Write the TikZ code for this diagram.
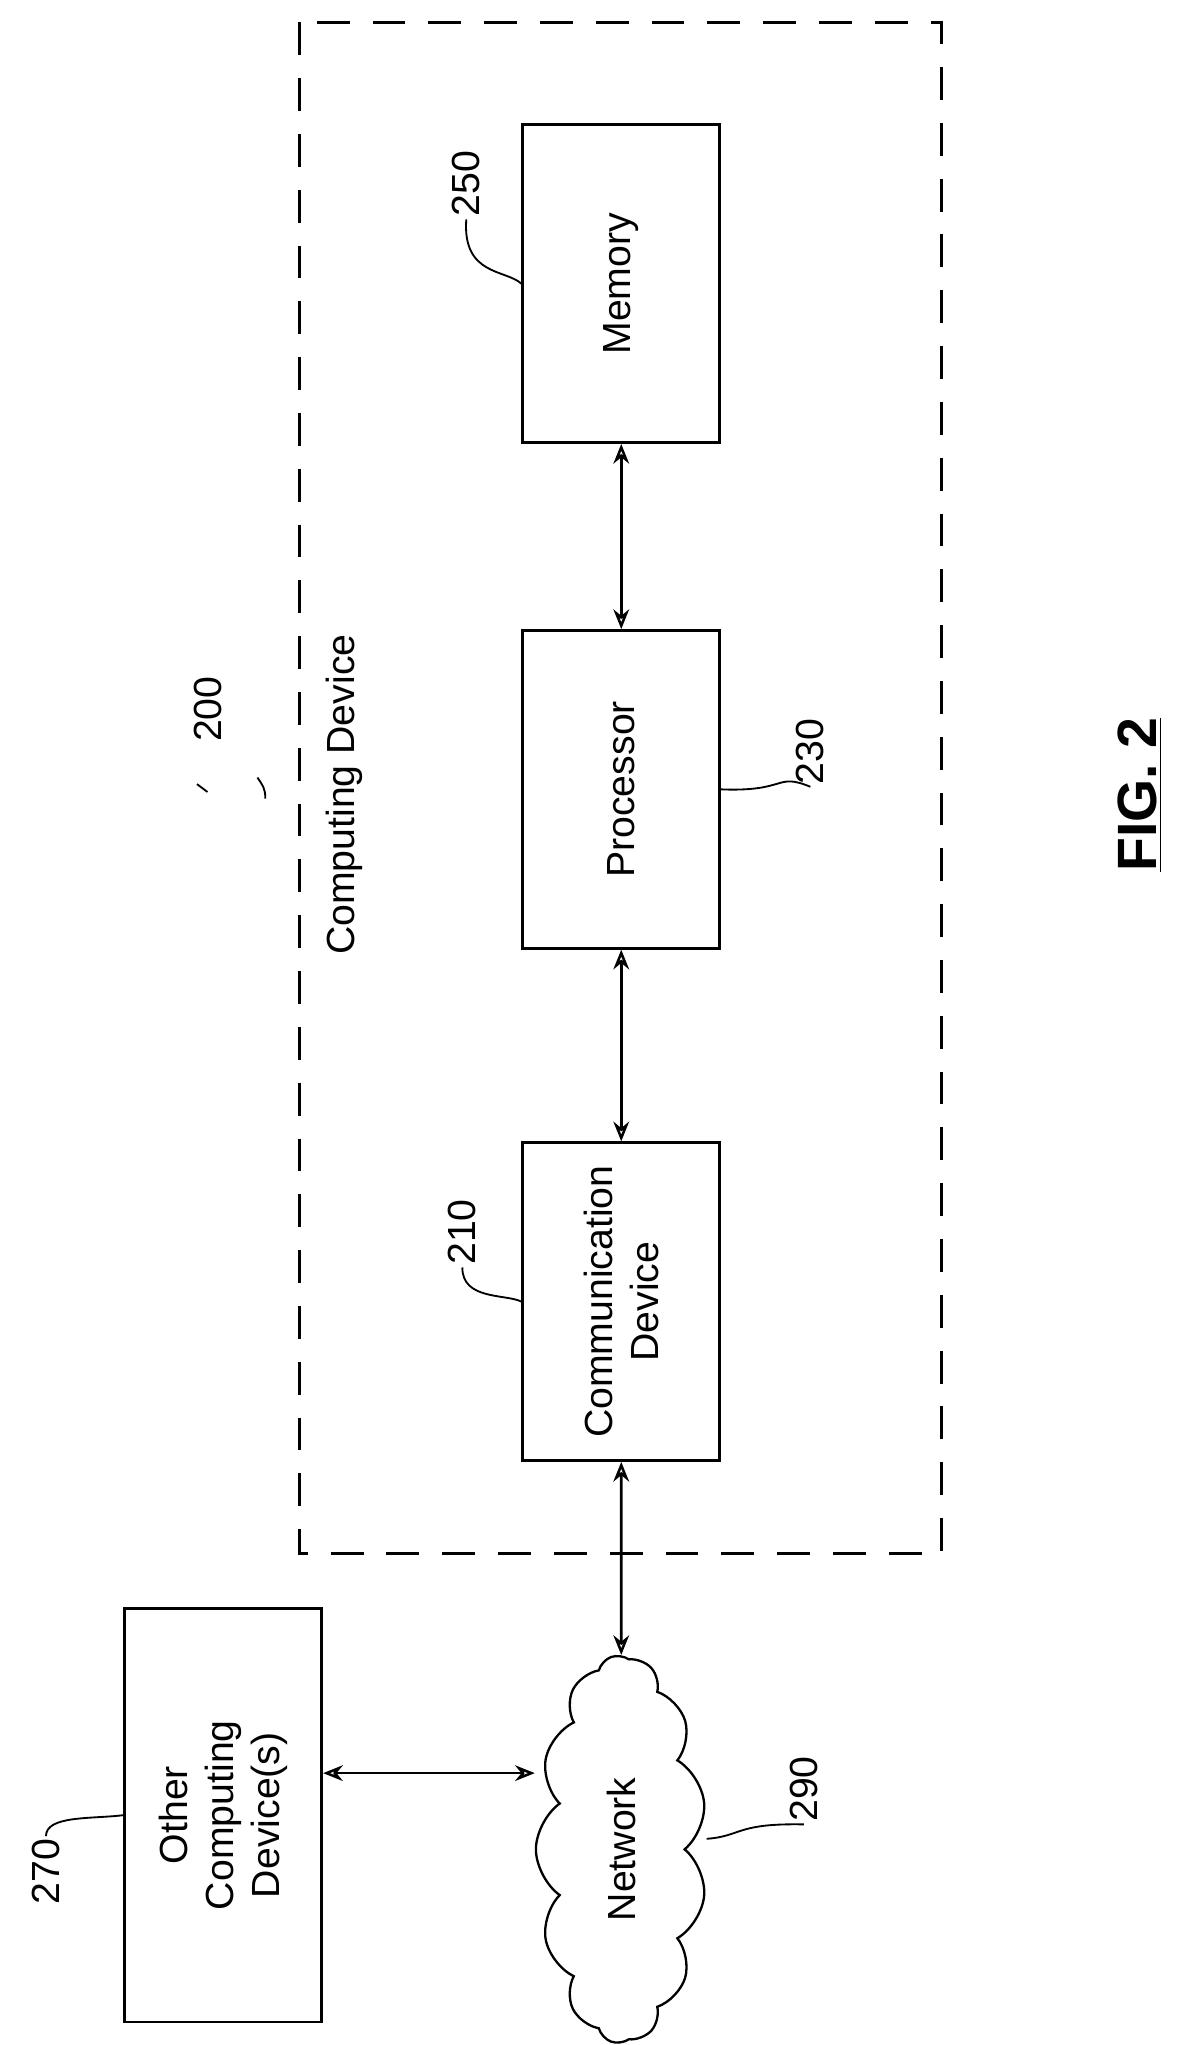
\documentclass[tikz,border=0pt]{standalone}
\usepackage{fontspec}
\setmainfont{Liberation Sans}
\usetikzlibrary{arrows.meta,calc,shapes.symbols}
\tikzset{
	blk/.style={draw,line width=1.2pt,minimum width=4.84cm,minimum height=3cm,rotate=90,align=center,font=\fontsize{17}{20}\selectfont},
	lbl/.style={rotate=90,font=\fontsize{17}{20}\selectfont,inner sep=1pt},
	link/.style={{Stealth[open,length=3mm,width=2.4mm]}-{Stealth[open,length=3mm,width=2.4mm]},line width=1.1pt},
	lead/.style={line width=0.8pt}
}
\begin{document}
\begin{tikzpicture}[x=0.02cm,y=-0.02cm]
		\useasboundingbox (0,0) rectangle (910,1557);
		\draw[dashed,line width=1.3pt,dash pattern=on 5mm off 3.5mm] (228,17) rectangle (717,1183);
		\node[blk] (M) at (473,216) {Memory};
		\node[blk] (P) at (473,601) {Processor};
		\node[blk] (C) at (473,991) {Communication\\Device};
		\node[blk,minimum width=6.3cm] (O) at (170,1382) {Other\\Computing\\Device(s)};
		\node[cloud,draw,line width=1pt,rotate=90,cloud puffs=13,cloud puff arc=110,aspect=2.3,minimum width=5.9cm,minimum height=2.6cm,inner sep=0pt,font=\fontsize{17}{20}\selectfont] (N) at (473,1408) {Network};
		\node[lbl] (dev) at (262,605) {Computing Device};
		\node[lbl,font=\fontsize{24}{28}\selectfont\bfseries] (fig) at (868,605) {\underline{FIG. 2}};
		\coordinate (a) at ($(O.south)+(0,-32)$);
		% arrows between blocks
		\draw[link] (M.west) -- (P.east);
		\draw[link] (P.west) -- (C.east);
		\draw[link] (C.west) -- (N.east);
		\draw[link] (a) -- (N.north |- a);
		% reference numerals
		\node[lbl] (n200) at (158,540) {200};
		\node[lbl] (n250) at (355,140) {250};
		\node[lbl] (n230) at (617,572) {230};
		\node[lbl] (n210) at (352,938) {210};
		\node[lbl] (n270) at (35,1425) {270};
		\node[lbl] (n290) at (612,1362) {290};
		\draw[lead] (150,597) -- (158,603);
		\draw[lead] (196,592) .. controls (200,598) and (202,600) .. (202,608);
		\draw[lead] (n250.west) .. controls (352,210) and (385,205) .. (M.north);
		\draw[lead] (P.south) .. controls (600,603) and (590,588) .. (n230.west);
		\draw[lead] (n210.west) .. controls (352,990) and (385,985) .. (C.north);
		\draw[lead] (n270.east) .. controls (35,1382) and (70,1385) .. (O.north);
		\draw[lead] (538,1400) .. controls (565,1398) and (560,1388) .. (n290.west);
	\end{tikzpicture}
\end{document}
